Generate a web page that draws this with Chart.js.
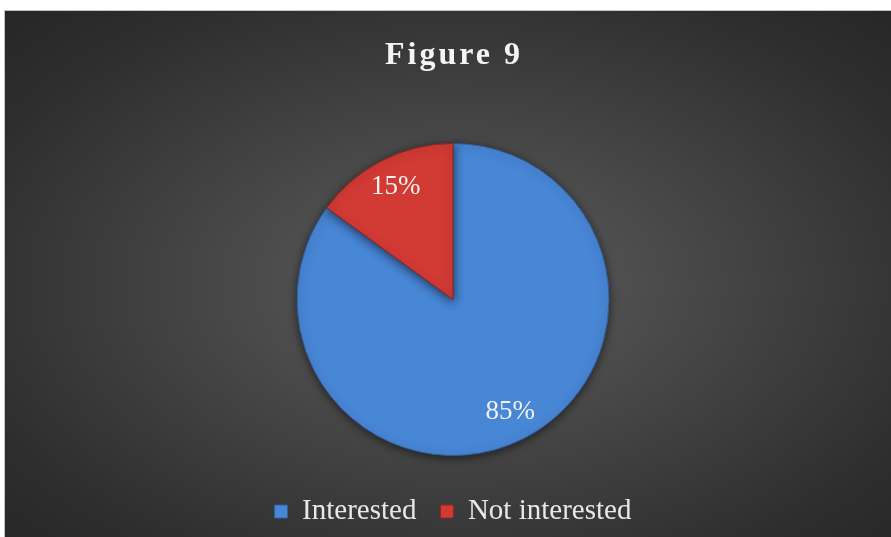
<!DOCTYPE html>
<html lang="en">
<head>
  <meta charset="UTF-8">
  <title>Figure 9</title>
  <script src="https://cdn.jsdelivr.net/npm/chart.js"></script>
  <style>
    body { margin: 0; background: #fff; }
    #wrap { position: relative; width: 891px; height: 537px; overflow: hidden; }
    #panel {
      position: absolute; left: 4px; top: 10px; right: 0; bottom: 0;
      border-left: 1px solid #c4c4c4; border-top: 1px solid #c4c4c4;
      background: radial-gradient(ellipse farthest-corner at 51% 52%, #5e5e5e 0%, #474747 38%, #2e2e2e 80%, #262626 100%);
    }
    #figure9 { position: absolute; left: 0; top: 0; }
  </style>
</head>
<body>
  <div id="wrap">
    <div id="panel"></div>
    <canvas id="figure9" width="891" height="537"></canvas>
  </div>
  <script>
    // answers to the question
    const labels = ['Interested', 'Not interested'];
    const percents = [85, 15];
    const sliceColors = ['#4886d6', '#d23a34'];
    const titleText = 'Figure 9';

    // title drawn by hand so the letters can be spaced out
    const spacedTitle = {
      id: 'spacedTitle',
      afterDraw(chart) {
        const ctx = chart.ctx;
        ctx.save();
        ctx.font = 'bold 32px "Liberation Serif"';
        ctx.letterSpacing = '3px';
        ctx.fillStyle = '#f4f4f4';
        ctx.textAlign = 'center';
        ctx.textBaseline = 'alphabetic';
        ctx.fillText(titleText, 454, 64);
        ctx.restore();
      }
    };

    // soft shadow under the pie
    const pieShadow = {
      id: 'pieShadow',
      beforeDatasetsDraw(chart) {
        const ctx = chart.ctx;
        ctx.save();
        ctx.shadowColor = 'rgba(0,0,0,0.55)';
        ctx.shadowBlur = 10;
        ctx.shadowOffsetY = 2;
      },
      afterDatasetsDraw(chart) {
        chart.ctx.restore();
      }
    };

    // percentage text inside each slice
    const sliceLabels = {
      id: 'sliceLabels',
      afterDatasetsDraw(chart) {
        const ctx = chart.ctx;
        const meta = chart.getDatasetMeta(0);
        ctx.save();
        ctx.font = '27px "Liberation Serif"';
        ctx.fillStyle = '#f2f2f2';
        ctx.textAlign = 'center';
        ctx.textBaseline = 'middle';
        meta.data.forEach((arc, i) => {
          const p = arc.getProps(['x', 'y', 'startAngle', 'endAngle', 'outerRadius'], true);
          const mid = (p.startAngle + p.endAngle) / 2;
          const r = p.outerRadius * 0.81;
          ctx.fillText(percents[i] + '%', p.x + Math.cos(mid) * r, p.y + Math.sin(mid) * r);
        });
        ctx.restore();
      }
    };

    new Chart(document.getElementById('figure9'), {
      type: 'pie',
      data: {
        labels: labels,
        datasets: [{
          data: percents,
          backgroundColor: sliceColors,
          borderColor: ['#2f5f9f', '#8e2622'],
          borderWidth: 1,
          radius: 156
        }]
      },
      options: {
        responsive: false,
        animation: false,
        layout: { padding: { top: 126, left: 15, bottom: 1 } },
        plugins: {
          title: { display: false },
          tooltip: { enabled: false },
          legend: {
            position: 'bottom',
            labels: {
              color: '#e8e8e8',
              font: { family: 'Liberation Serif', size: 29 },
              boxWidth: 13,
              boxHeight: 13,
              padding: 24
            }
          }
        }
      },
      plugins: [spacedTitle, pieShadow, sliceLabels]
    });
  </script>
</body>
</html>
